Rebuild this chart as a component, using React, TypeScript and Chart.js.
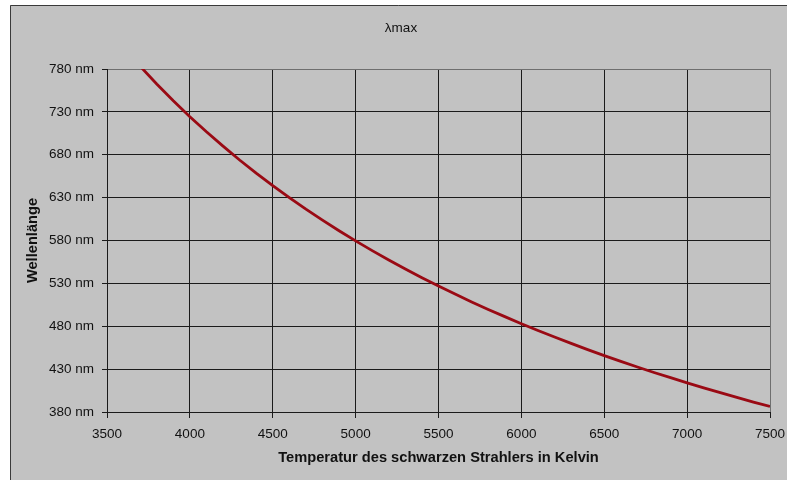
import React, { useEffect, useRef } from "react";
import { Chart, registerables } from "chart.js";

Chart.register(...registerables);

const temperatures = [3700, 3800, 3900, 4000, 4100, 4200, 4300, 4400, 4500, 4600, 4700, 4800, 4900, 5000, 5100, 5200, 5300, 5400, 5500, 5600, 5700, 5800, 5900, 6000, 6100, 6200, 6300, 6400, 6500, 6600, 6700, 6800, 6900, 7000, 7100, 7200, 7300, 7400, 7500];
const wavelengths = [783.2, 762.6, 743.0, 724.4, 706.8, 690.0, 673.9, 658.6, 644.0, 630.0, 616.5, 603.7, 591.4, 579.6, 568.2, 557.3, 546.8, 536.6, 526.9, 517.5, 508.4, 499.6, 491.2, 483.0, 475.0, 467.4, 460.0, 452.8, 445.8, 439.1, 432.5, 426.1, 420.0, 414.0, 408.1, 402.5, 397.0, 391.6, 386.4];

const chartTitle = "λmax";
const xTitle = "Temperatur des schwarzen Strahlers in Kelvin";
const yTitle = "Wellenlänge";
const xMin = 3500;
const xMax = 7500;
const xStep = 500;
const yMin = 380;
const yMax = 780;
const yStep = 50;

const FONT = "'Liberation Sans', Arial, sans-serif";

const framePlugin = {
  id: "frame",
  beforeDraw(chart: any) {
    const { ctx, width, height } = chart;
    ctx.save();
    ctx.fillStyle = "#ffffff";
    ctx.fillRect(0, 0, width, height);
    ctx.fillStyle = "#c2c2c2";
    ctx.fillRect(10, 5, width - 10, height - 5);
    ctx.strokeStyle = "#3a3a3a";
    ctx.lineWidth = 1;
    ctx.beginPath();
    ctx.moveTo(10.5, height);
    ctx.lineTo(10.5, 5.5);
    ctx.lineTo(width, 5.5);
    ctx.stroke();
    ctx.restore();
  },
  afterDraw(chart: any) {
    const { ctx } = chart;
    ctx.save();
    ctx.fillStyle = "#111111";
    ctx.font = `13.5px ${FONT}`;
    ctx.textAlign = "center";
    ctx.textBaseline = "middle";
    ctx.fillText(chartTitle, 401, 28);
    ctx.restore();
  },
};

export default function App() {
  const ref = useRef<HTMLCanvasElement>(null);

  useEffect(() => {
    if (!ref.current) return;
    const chart = new Chart(ref.current, {
      type: "line",
      data: {
        datasets: [
          {
            data: temperatures.map((t, i) => ({ x: t, y: wavelengths[i] })),
            borderColor: "#9a0a14",
            borderWidth: 2.8,
            pointRadius: 0,
            tension: 0,
            fill: false,
          },
        ],
      },
      options: {
        responsive: false,
        animation: false,
        layout: { padding: { left: 0, right: 0, top: 69, bottom: 0 } },
        plugins: {
          legend: { display: false },
          title: { display: false },
          tooltip: { enabled: false },
        },
        scales: {
          x: {
            type: "linear",
            min: xMin,
            max: xMax,
            ticks: {
              stepSize: xStep,
              color: "#111111",
              font: { family: FONT, size: 13.5 },
              padding: 8,
              maxRotation: 0,
              callback: (v: any) => String(v),
            },
            grid: {
              color: (c: any) => (c.tick && c.tick.value === xMax ? "#6e6e6e" : "#1a1a1a"),
              tickColor: "#1a1a1a",
              tickLength: 6,
              lineWidth: 1,
            },
            border: { color: "#1a1a1a", width: 1 },
            title: {
              display: true,
              text: xTitle,
              color: "#111111",
              font: { family: FONT, size: 14.67, weight: "bold" },
              padding: { top: 0, bottom: 13 },
            },
            afterFit: (scale: any) => {
              scale.height = 68;
              scale.paddingRight = 17;
              scale.paddingLeft = 0;
            },
          },
          y: {
            type: "linear",
            min: yMin,
            max: yMax,
            ticks: {
              stepSize: yStep,
              color: "#111111",
              font: { family: FONT, size: 13.5 },
              padding: 8,
              callback: (v: any) => `${v} nm`,
            },
            grid: {
              color: (c: any) => (c.tick && c.tick.value === yMax ? "#6e6e6e" : "#1a1a1a"),
              tickColor: "#1a1a1a",
              tickLength: 5,
              lineWidth: 1,
            },
            border: { color: "#1a1a1a", width: 1 },
            title: {
              display: true,
              text: yTitle,
              color: "#111111",
              font: { family: FONT, size: 14.67, weight: "bold" },
              padding: { top: 24, bottom: 0 },
            },
            afterFit: (scale: any) => {
              scale.width = 107;
            },
          },
        },
      },
      plugins: [framePlugin],
    });
    return () => chart.destroy();
  }, []);

  return (
    <div style={{ position: "absolute", left: 0, top: 0, width: 787, height: 480 }}>
      <canvas ref={ref} width={787} height={480} />
    </div>
  );
}
